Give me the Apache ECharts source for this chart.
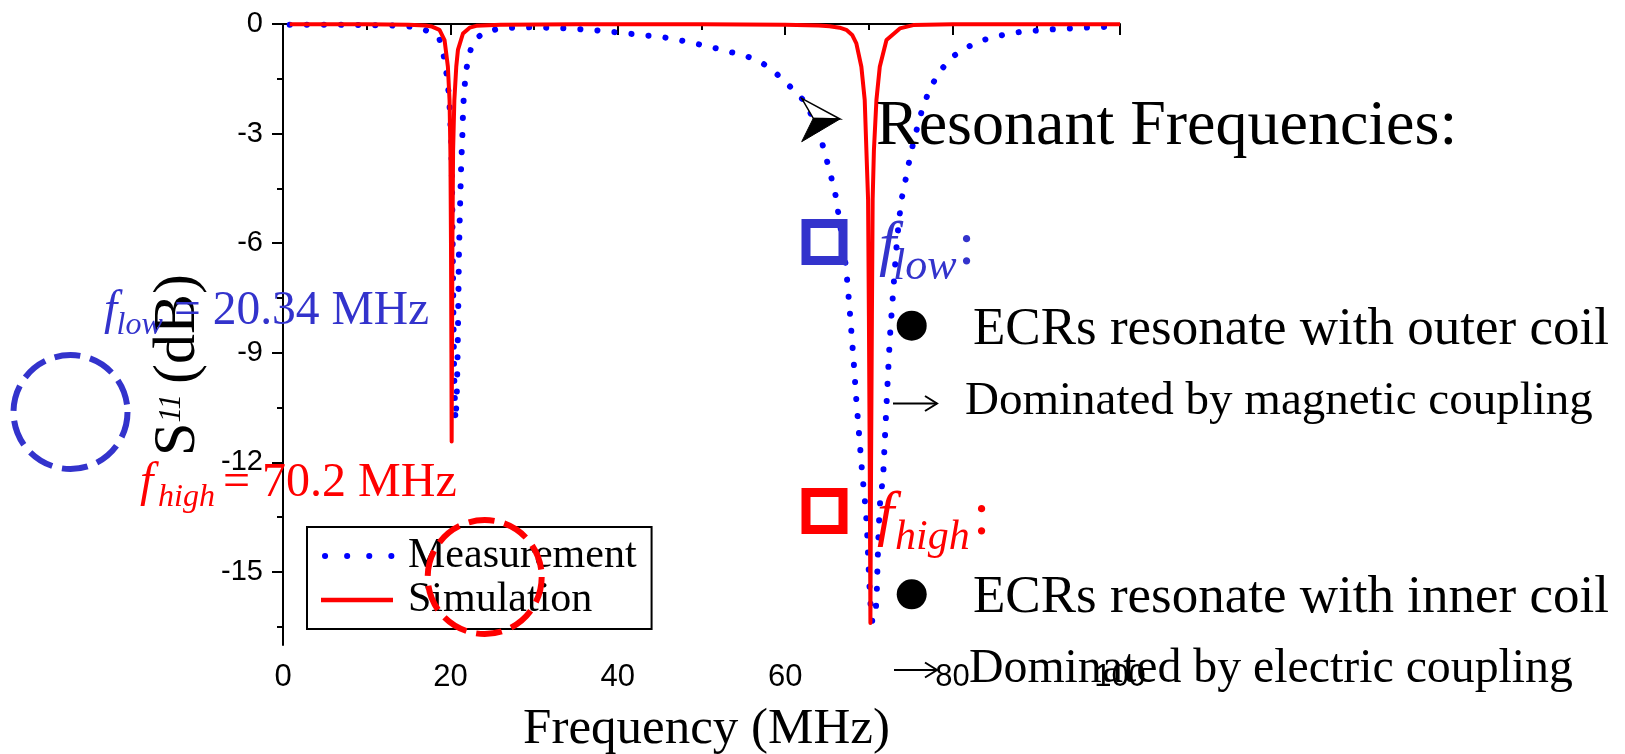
<!DOCTYPE html>
<html><head><meta charset="utf-8">
<script src="https://cdn.jsdelivr.net/npm/echarts@6/dist/echarts.min.js"></script>
<style>html,body{margin:0;padding:0;background:#fff}#c{width:1625px;height:754px}</style>
</head><body><div id="c"></div>
<script>
// Measurement (dotted blue)
const measX = [0.8, 5, 10, 13, 15.3, 16.7, 18.0, 18.7, 19.1, 19.5, 19.85, 20.1, 20.2, 20.28, 20.36, 20.45, 20.6, 20.75, 20.85, 20.95, 21.02, 21.12, 21.22, 21.3, 21.42, 21.5, 21.62, 21.9, 22.5, 23.2, 23.9, 25.7, 27.5, 29.9, 33.9, 37.85, 41.6, 45.4, 48.2, 51.8, 55.4, 57.4, 59.0, 60.8, 62.15, 63.35, 64.1, 64.7, 65.4, 66.06, 66.45, 66.9, 67.25, 67.5, 67.73, 67.93, 68.2, 68.5, 68.85, 69.2, 69.5, 69.75, 69.9, 70.05, 70.2, 70.4, 70.65, 70.84, 70.95, 71.02, 71.1, 71.2, 71.35, 71.7, 71.9, 72.15, 72.5, 72.7, 72.9, 73.1, 73.3, 73.55, 73.9, 74.5, 75.0, 75.7, 76.4, 77.3, 78.5, 79.9, 81.3, 83.1, 84.85, 86.65, 88.25, 90.0, 91.6, 93.2, 95.0, 96.6, 99.5];
const measY = [-0.02, -0.02, -0.03, -0.04, -0.07, -0.14, -0.26, -0.42, -0.73, -1.3, -2.0, -3.2, -4.5, -6.2, -8.0, -9.6, -10.85, -10.3, -9.2, -7.6, -6.3, -5.3, -4.4, -3.77, -3.13, -2.49, -1.88, -1.24, -0.62, -0.38, -0.25, -0.13, -0.1, -0.09, -0.12, -0.18, -0.27, -0.36, -0.48, -0.67, -0.88, -1.09, -1.37, -1.76, -2.08, -2.58, -3.0, -3.5, -4.1, -4.73, -5.35, -6.0, -6.64, -7.26, -7.9, -8.5, -9.3, -10.3, -11.3, -12.3, -13.0, -13.7, -14.5, -15.3, -15.9, -16.35, -16.3, -16.0, -15.5, -14.9, -14.3, -13.67, -13.03, -12.4, -11.4, -10.2, -8.6, -7.97, -7.33, -6.7, -6.1, -5.46, -4.8, -4.13, -3.54, -2.9, -2.31, -1.76, -1.29, -0.91, -0.69, -0.48, -0.36, -0.27, -0.21, -0.18, -0.15, -0.13, -0.11, -0.09, -0.07];
// Simulation (solid red)
const simX = [0.8, 10, 15, 17, 17.8, 18.7, 19.3, 19.7, 19.9, 20.0, 20.07, 20.12, 20.15, 20.19, 20.24, 20.32, 20.47, 20.7, 20.9, 21.5, 22.3, 23.1, 26, 35, 50, 60, 64, 65.3, 66.5, 67.3, 68.0, 68.5, 69.1, 69.5, 69.7, 69.9, 70.0, 70.1, 70.18, 70.26, 70.36, 70.45, 70.6, 70.9, 71.3, 72.1, 73.7, 75.3, 80, 100];
const simY = [-0.01, -0.01, -0.02, -0.04, -0.07, -0.16, -0.44, -1.17, -2.1, -3.5, -6, -9, -11.43, -9, -6, -3.5, -2.1, -1.17, -0.71, -0.26, -0.1, -0.05, -0.02, -0.01, -0.01, -0.02, -0.04, -0.06, -0.1, -0.16, -0.3, -0.53, -1.17, -2.08, -3.45, -4.8, -8, -12, -16.4, -12, -8, -4.8, -3.45, -2.08, -1.17, -0.44, -0.12, -0.03, -0.01, -0.01];
const seriesNames = ['Measurement', 'Simulation'];
const yMajorTicks = [0, -3, -6, -9, -12, -15];
const yMinorTicks = [-1.5, -4.5, -7.5, -10.5, -13.5, -16.5];

const zip = (xs, ys) => xs.map((x, i) => [x, ys[i]]);
const SERIF = '"Liberation Serif", "Times New Roman", serif';
const TICKFONT = '"Liberation Sans", Arial, sans-serif';
const BLUE = '#3333cc';

function T(x, base, text, size, color, italic) {
  return {
    type: 'text', x: x, y: base - 0.28 * size, z: 100,
    style: {
      text: text, fill: color,
      font: (italic ? 'italic ' : '') + size + 'px ' + SERIF,
      align: 'left', verticalAlign: 'middle',
      textAlign: 'left', textVerticalAlign: 'middle'
    }
  };
}
function RT(x, y, text, size, italic) {
  return {
    type: 'text', x: x, y: y, rotation: Math.PI / 2, z: 100,
    style: {
      text: text, fill: '#000',
      font: (italic ? 'italic ' : '') + size + 'px ' + SERIF,
      align: 'left', verticalAlign: 'middle',
      textAlign: 'left', textVerticalAlign: 'middle'
    }
  };
}
function ARROW(x1, x2, y) {
  return [
    { type: 'line', z: 100, shape: { x1: x1, y1: y, x2: x2, y2: y }, style: { stroke: '#000', lineWidth: 2 } },
    { type: 'polyline', z: 100, shape: { points: [[x2 - 12, y - 7.5], [x2, y], [x2 - 12, y + 7.5]] },
      style: { stroke: '#000', lineWidth: 2, fill: 'none' } }
  ];
}

const graphics = [
  // y axis name S11 (dB)
  RT(178.5, 456, 'S', 60, false),
  RT(171.5, 422.6, '11 ', 31, true),
  RT(178.5, 383.9, '(dB)', 60, false),
  // left annotations
  T(104, 325, 'f', 47.5, BLUE, true),
  T(116.5, 335, 'low', 32, BLUE, true),
  T(174, 325, '= 20.34 MHz', 47.5, BLUE, false),
  T(140, 497, 'f', 48, '#ff0000', true),
  T(158, 507, 'high', 32, '#ff0000', true),
  T(223, 497, '= 70.2 MHz', 48, '#ff0000', false),
  { type: 'circle', z: 100, shape: { cx: 70.5, cy: 412, r: 57 },
    style: { fill: 'none', stroke: BLUE, lineWidth: 6, lineDash: [26, 10] } },
  { type: 'circle', z: 100, shape: { cx: 484.7, cy: 577, r: 57 },
    style: { fill: 'none', stroke: '#ff0000', lineWidth: 6, lineDash: [26, 10] } },
  // right annotations
  { type: 'polygon', z: 100, shape: { points: [[801.7, 98.3], [840, 119], [813.3, 118.3]] },
    style: { fill: '#fff', stroke: '#000', lineWidth: 1.5 } },
  { type: 'polygon', z: 100, shape: { points: [[813.3, 118.3], [840, 119], [801.7, 141.7]] },
    style: { fill: '#000', stroke: '#000', lineWidth: 1 } },
  T(876, 145, 'Resonant Frequencies:', 64, '#000', false),
  { type: 'rect', z: 100, shape: { x: 806, y: 223.5, width: 37, height: 37 },
    style: { fill: 'none', stroke: BLUE, lineWidth: 9 } },
  T(879, 265, 'f', 62, BLUE, true),
  T(893, 280, 'low', 44, BLUE, true),
  T(958, 265, ':', 62, BLUE, false),
  { type: 'circle', z: 100, shape: { cx: 911.7, cy: 325.7, r: 15 }, style: { fill: '#000' } },
  T(973, 345, 'ECRs resonate with outer coil', 53, '#000', false),
  ...ARROW(893, 937, 403.5),
  T(965, 415, 'Dominated by magnetic coupling', 47, '#000', false),
  { type: 'rect', z: 100, shape: { x: 806, y: 492.5, width: 37, height: 37 },
    style: { fill: 'none', stroke: '#ff0000', lineWidth: 9 } },
  T(877, 535, 'f', 62, '#ff0000', true),
  T(895, 550, 'high', 42, '#ff0000', true),
  T(973, 535, ':', 62, '#ff0000', false),
  { type: 'circle', z: 100, shape: { cx: 911.7, cy: 594.3, r: 15 }, style: { fill: '#000' } },
  T(973, 613, 'ECRs resonate with inner coil', 53, '#000', false),
  ...ARROW(894, 937, 670),
  T(969, 683, 'Dominated by electric coupling', 47.8, '#000', false)
];

const chart = echarts.init(document.getElementById('c'), null, { renderer: 'canvas' });
chart.setOption({
  animation: false,
  backgroundColor: '#fff',
  grid: { left: 283, top: 24, right: 505, bottom: 109, containLabel: false, outerBoundsMode: 'none' },
  legend: {
    orient: 'vertical', left: 307, top: 527,
    padding: [8, 15, 8, 11], itemGap: 2, itemWidth: 72, itemHeight: 14,
    borderColor: '#000', borderWidth: 2, backgroundColor: '#fff',
    itemStyle: { color: 'rgba(0,0,0,0)', borderWidth: 0, opacity: 0 },
    textStyle: { fontFamily: SERIF, fontSize: 42, color: '#000', lineHeight: 42, padding: [0, 0, 0, 10] },
    data: [
      { name: seriesNames[0], lineStyle: { color: '#0000ff', width: 6, type: [0.1, 22], cap: 'round', dashOffset: 18.1 } },
      { name: seriesNames[1], lineStyle: { color: '#ff0000', width: 4.5 } }
    ]
  },
  xAxis: {
    type: 'value', min: 0, max: 100, interval: 20,
    name: 'Frequency (MHz)', nameLocation: 'middle', nameGap: 59,
    nameTextStyle: { fontFamily: SERIF, fontSize: 51, color: '#000', padding: [0, 0, 0, 10] },
    axisLine: { lineStyle: { color: '#000', width: 2 } },
    axisTick: { length: 11, lineStyle: { color: '#000', width: 2 } },
    minorTick: { show: true, splitNumber: 2, length: 6, lineStyle: { color: '#000', width: 2 } },
    axisLabel: { fontFamily: TICKFONT, fontSize: 31, color: '#000', margin: 17 },
    splitLine: { show: false }, minorSplitLine: { show: false }
  },
  yAxis: [{
    type: 'value', min: -17, max: 0, position: 'left',
    axisLine: { show: true, lineStyle: { color: '#000', width: 2 } },
    axisTick: { show: true, length: 11, customValues: yMajorTicks, lineStyle: { color: '#000', width: 2 } },
    axisLabel: { customValues: yMajorTicks, fontFamily: TICKFONT, fontSize: 29, color: '#000', margin: 20 },
    splitLine: { show: false }
  }, {
    type: 'value', min: -17, max: 0, position: 'left',
    axisLine: { show: false },
    axisTick: { show: true, length: 6, customValues: yMinorTicks, lineStyle: { color: '#000', width: 2 } },
    axisLabel: { show: false },
    splitLine: { show: false }
  }],
  series: [{
    name: seriesNames[0], type: 'line', data: zip(measX, measY),
    symbol: 'none', showSymbol: false, z: 2,
    lineStyle: { color: '#0000ff', width: 6, type: [0.1, 17], cap: 'round' },
    itemStyle: { color: '#0000ff' }
  }, {
    name: seriesNames[1], type: 'line', data: zip(simX, simY),
    symbol: 'none', showSymbol: false, z: 3,
    lineStyle: { color: '#ff0000', width: 4, join: 'round' },
    itemStyle: { color: '#ff0000' }
  }],
  graphic: graphics
});
</script>
</body></html>
